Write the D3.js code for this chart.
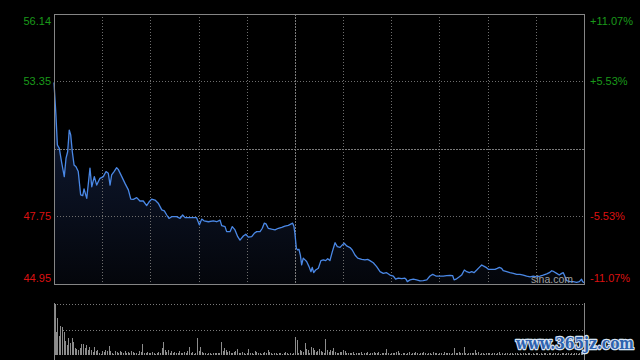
<!DOCTYPE html>
<html><head><meta charset="utf-8">
<script src="https://cdn.jsdelivr.net/npm/d3@7/dist/d3.min.js"></script>
<style>html,body{margin:0;padding:0;background:#000;}svg{display:block;}</style>
</head><body>
<svg id="c" width="640" height="360"></svg>
<script>
// ---- data ----
const yMax = 56.14, yMin = 44.95, prevClose = 50.545;
const leftTickValues = [56.14, 53.35, 47.75, 44.95];
const leftTickLabels = ["56.14", "53.35", "47.75", "44.95"];
const rightTickLabels = ["+11.07%", "+5.53%", "-5.53%", "-11.07%"];
const timeGridMinutes = [30, 60, 90, 120, 150, 180, 210, 240, 270, 300];
const priceMinutes = [0,1.2,2.1,3.3,4.8,6.4,7.5,8.5,9.5,10.4,11.4,12.5,13.7,15.1,16.6,17.9,18.7,20.4,22.4,23.5,25.1,26.6,28.6,30.7,32.4,33.8,34.9,35.9,37.4,39.0,40.0,42.2,44.2,46.3,47.8,49.4,51.5,53.5,55.6,57.7,59.3,60.8,62.9,64.9,67.1,68.7,70.2,71.6,73.3,76.4,78.5,80.1,81.6,84.7,88.8,90.5,92.0,93.4,96.1,99.2,101.3,103.4,104.4,106.5,107.5,109.6,111.0,112.7,114.4,115.8,117.9,119.4,121.0,123.1,124.7,126.2,128.3,129.7,130.9,132.0,133.4,135.5,137.6,139.7,141.8,143.8,145.9,147.4,148.6,149.4,150.0,150.9,151.7,152.5,153.4,154.2,155.2,156.3,157.3,158.8,160.0,160.8,161.7,162.9,164.6,166.2,167.7,169.2,170.4,171.8,173.3,175.0,176.4,178.1,179.5,180.7,182.2,184.3,185.7,187.4,189.1,191.6,193.6,195.3,196.7,198.8,200.9,203.0,205.0,207.1,209.2,211.3,212.7,214.4,216.5,218.5,219.2,220.0,221.7,223.7,225.8,227.9,229.9,232.1,234.1,235.8,237.8,240.3,242.4,244.5,246.6,248.2,249.1,250.3,252.4,253.8,255.5,257.0,258.6,260.1,261.5,263.2,264.8,266.3,267.3,269.0,270.4,272.5,274.6,276.0,277.3,278.7,279.7,281.9,283.9,286.0,288.1,290.1,292.2,294.3,296.4,298.4,300.5,302.6,304.6,306.8,308.4,309.9,311.3,313.0,314.6,316.1,317.1,318.2,319.2,321.3,323.3,325.4,327.1,328.5,329.1,330];
const prices = [53.30,51.95,50.71,50.57,49.97,49.40,50.17,50.43,51.33,51.13,50.43,49.88,49.81,49.61,48.64,48.61,48.89,48.50,49.75,48.98,49.40,49.05,49.33,49.40,49.61,49.54,49.05,49.47,49.61,49.77,49.70,49.40,49.12,48.85,48.47,48.46,48.53,48.39,48.39,48.20,48.36,48.47,48.43,48.30,48.02,47.98,47.81,47.67,47.74,47.74,47.67,47.81,47.70,47.70,47.70,47.40,47.64,47.57,47.53,47.57,47.53,47.60,47.37,47.33,47.12,47.12,47.33,47.19,46.91,46.77,46.94,47.01,46.89,46.91,47.05,47.12,47.12,47.26,47.47,47.44,47.26,47.22,47.19,47.26,47.30,47.35,47.38,47.43,47.47,47.33,47.05,46.43,46.36,46.39,46.15,45.74,46.02,45.95,45.88,45.67,45.46,45.64,45.42,45.53,45.60,45.92,45.95,45.92,46.00,45.92,46.29,46.66,46.50,46.47,46.57,46.64,46.53,46.46,46.36,46.15,46.02,45.97,45.95,45.97,45.92,45.83,45.67,45.46,45.39,45.42,45.32,45.28,45.15,45.19,45.17,45.19,45.15,45.05,45.12,45.15,45.12,45.08,45.09,45.12,45.28,45.35,45.28,45.28,45.28,45.30,45.31,45.30,45.12,45.15,45.25,45.32,45.53,45.46,45.42,45.46,45.42,45.53,45.64,45.74,45.70,45.64,45.56,45.56,45.56,45.60,45.64,45.60,45.50,45.46,45.42,45.39,45.35,45.35,45.32,45.28,45.25,45.28,45.25,45.28,45.32,45.37,45.42,45.50,45.46,45.39,45.32,45.39,45.42,45.25,45.09,45.05,45.05,45.02,45.05,45.15,45.05,45.00];
// volume per minute (relative units), index = minute
const volumes = [
100,45,72,37,57,54,46,28,20,33,
23,33,26,14,12,10,13,22,22,13,
20,10,15,10,5,16,7,10,3,2,
7,5,10,8,18,8,3,2,7,5,
3,8,5,3,7,4,5,3,7,5,
4,3,2,7,5,22,3,4,5,4,
3,5,4,2,3,5,4,13,26,10,
5,10,4,7,3,5,3,4,8,4,
3,5,4,8,16,3,5,2,4,34,
8,16,5,3,4,2,3,4,2,3,
3,4,3,4,26,8,13,10,5,7,
4,3,5,7,11,4,3,5,4,2,
3,11,4,3,2,8,5,3,4,2,
3,5,4,10,5,3,2,3,4,2,
3,4,2,3,5,3,2,4,2,3,
36,29,4,10,7,5,23,12,10,4,
15,13,10,5,7,11,8,5,4,31,
10,5,10,8,13,5,4,3,6,5,
10,8,4,3,4,3,5,2,3,4,
3,5,2,4,3,5,2,4,3,5,
4,3,5,2,3,4,3,11,3,2,
3,4,3,5,8,3,2,3,4,2,
3,5,2,4,3,5,4,2,3,4,
5,3,2,4,3,2,5,3,4,2,
3,4,2,5,3,4,3,2,4,13,
3,4,5,3,4,16,3,2,4,3,
4,3,10,3,5,2,3,4,2,3,
4,3,2,3,4,2,3,5,2,3,
2,4,3,2,4,3,2,3,4,2,
3,2,4,3,2,3,4,2,3,2,
4,3,2,3,2,4,3,2,3,4,
2,3,4,2,3,2,4,3,2,3,
4,2,3,2,4,3,2,3,5,4,
8];

// ---- layout ----
const svg = d3.select("#c");
const L = 54, R = 584, T = 14, B = 284;
const VT = 304, VB = 355;
const font = "Arial, 'Liberation Sans', sans-serif";
const green = "#1a9a1a", red = "#dd1111";

const x = d3.scaleLinear().domain([0, 330]).range([L, R]);
const y = d3.scaleLinear().domain([yMin, yMax]).range([B, T]);
const yv = d3.scaleLinear().domain([0, d3.max(volumes)]).range([VB, VT]);

const defs = svg.append("defs");
const grad = defs.append("linearGradient").attr("id", "g").attr("gradientUnits", "userSpaceOnUse")
  .attr("x1", 0).attr("x2", 0).attr("y1", T).attr("y2", B);
grad.append("stop").attr("offset", 0).attr("stop-color", "#16254a");
grad.append("stop").attr("offset", 1).attr("stop-color", "#04060b");

const pts = priceMinutes.map((m, i) => [m, prices[i]]);

// area fill
svg.append("path").datum(pts)
  .attr("d", d3.area().x(d => x(d[0])).y0(B).y1(d => y(d[1])))
  .attr("fill", "url(#g)");

// grid
const grid = svg.append("g").attr("shape-rendering", "crispEdges");
grid.selectAll("line.v").data(timeGridMinutes).join("line")
  .attr("x1", d => Math.round(x(d)) + 0.5).attr("x2", d => Math.round(x(d)) + 0.5)
  .attr("y1", T).attr("y2", B)
  .attr("stroke", d => d === 150 ? "#7a7a7a" : "#6e6e6e")
  .attr("stroke-dasharray", d => d === 150 ? "2,1" : "1,2");
grid.selectAll("line.h").data([53.35, 47.75]).join("line")
  .attr("x1", L).attr("x2", R)
  .attr("y1", d => Math.round(y(d)) + 0.5).attr("y2", d => Math.round(y(d)) + 0.5)
  .attr("stroke", "#6e6e6e").attr("stroke-dasharray", "1,2");
grid.append("line").attr("x1", L).attr("x2", R)
  .attr("y1", Math.round(y(prevClose)) + 0.5).attr("y2", Math.round(y(prevClose)) + 0.5)
  .attr("stroke", "#7a7a7a").attr("stroke-dasharray", "2,1");

// price line
svg.append("path").datum(pts)
  .attr("d", d3.line().x(d => x(d[0])).y(d => y(d[1])))
  .attr("fill", "none").attr("stroke", "#4a88e6").attr("stroke-width", 1.3)
  .attr("stroke-linejoin", "round");

// frame
svg.append("rect").attr("x", L + 0.5).attr("y", T + 0.5).attr("width", R - L).attr("height", B - T)
  .attr("fill", "none").attr("stroke", "#858585").attr("shape-rendering", "crispEdges");

// sina watermark
svg.append("text").attr("x", 531).attr("y", 282.5).text("sina.com")
  .attr("font-family", font).attr("font-size", 10.5).attr("fill", "#a0a0a0");

// axis labels
const offs = [6.5, 0, 0, -6];
svg.selectAll("text.l").data(leftTickValues).join("text")
  .attr("x", 51).attr("y", (d, i) => y(d) + offs[i])
  .attr("text-anchor", "end").attr("dominant-baseline", "central")
  .attr("font-family", font).attr("font-size", 11)
  .attr("fill", d => d > prevClose ? green : red)
  .text((d, i) => leftTickLabels[i]);
svg.selectAll("text.r").data(leftTickValues).join("text")
  .attr("x", 590).attr("y", (d, i) => y(d) + offs[i])
  .attr("text-anchor", "start").attr("dominant-baseline", "central")
  .attr("font-family", font).attr("font-size", 11)
  .attr("fill", d => d > prevClose ? green : red)
  .text((d, i) => rightTickLabels[i]);

// volume panel
const vg = svg.append("g").attr("shape-rendering", "crispEdges");
vg.append("line").attr("x1", L).attr("x2", R).attr("y1", VT + 0.5).attr("y2", VT + 0.5)
  .attr("stroke", "#7a7a7a").attr("stroke-dasharray", "1,2");
vg.append("line").attr("x1", L).attr("x2", R)
  .attr("y1", Math.round(yv(d3.max(volumes) / 2)) + 0.5).attr("y2", Math.round(yv(d3.max(volumes) / 2)) + 0.5)
  .attr("stroke", "#7a7a7a").attr("stroke-dasharray", "1,2");
vg.append("line").attr("x1", L + 0.5).attr("x2", L + 0.5).attr("y1", VT - 1).attr("y2", 360).attr("stroke", "#858585");
vg.append("line").attr("x1", R + 0.5).attr("x2", R + 0.5).attr("y1", VT - 1).attr("y2", 360).attr("stroke", "#858585");
vg.selectAll("rect.v").data(volumes).join("rect")
  .attr("x", (d, i) => Math.round(x(i)) + (i === 0 ? 1 : 0))
  .attr("width", 1)
  .attr("y", d => yv(d))
  .attr("height", d => VB - yv(d))
  .attr("fill", "#8c8c8c");

// site watermark
svg.append("text").attr("x", 516).attr("y", 349).text("www.365jz.com")
  .attr("font-family", "'DejaVu Serif', serif").attr("font-weight", "bold").attr("font-size", 16)
  .attr("textLength", 118).attr("lengthAdjust", "spacingAndGlyphs")
  .attr("fill", "#2e62ae").attr("stroke", "#d8e4f4").attr("stroke-width", 2.5)
  .attr("paint-order", "stroke").attr("stroke-linejoin", "round");
</script>
</body></html>
